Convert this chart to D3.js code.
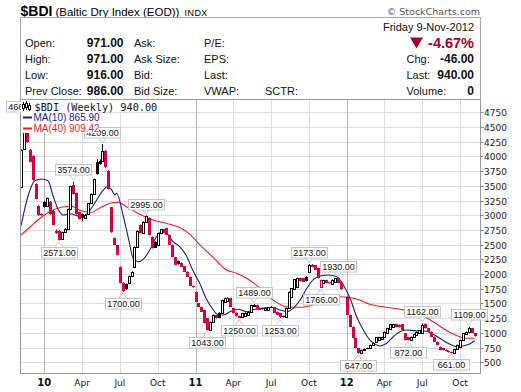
<!DOCTYPE html>
<html><head><meta charset="utf-8">
<script src="https://cdnjs.cloudflare.com/ajax/libs/d3/7.8.5/d3.min.js"></script>
<style>html,body{margin:0;padding:0;background:#fff;}svg{display:block;}</style>
</head><body>
<svg id="chart" width="521" height="392"></svg>
<script>
// ---------- DATA ----------
const weeks = ["2009-11-09","2009-11-16","2009-11-23","2009-11-30","2009-12-07","2009-12-14","2009-12-21","2009-12-28",
"2010-01-04","2010-01-11","2010-01-18","2010-01-25","2010-02-01","2010-02-08","2010-02-15","2010-02-22","2010-03-01","2010-03-08","2010-03-15","2010-03-22","2010-03-29",
"2010-04-05","2010-04-12","2010-04-19","2010-04-26","2010-05-03","2010-05-10","2010-05-17","2010-05-24","2010-05-31","2010-06-07","2010-06-14","2010-06-21","2010-06-28",
"2010-07-05","2010-07-12","2010-07-19","2010-07-26","2010-08-02","2010-08-09","2010-08-16","2010-08-23","2010-08-30","2010-09-06","2010-09-13","2010-09-20","2010-09-27",
"2010-10-04","2010-10-11","2010-10-18","2010-10-25","2010-11-01","2010-11-08","2010-11-15","2010-11-22","2010-11-29","2010-12-06","2010-12-13","2010-12-20","2010-12-27",
"2011-01-03","2011-01-10","2011-01-17","2011-01-24","2011-01-31","2011-02-07","2011-02-14","2011-02-21","2011-02-28","2011-03-07","2011-03-14","2011-03-21","2011-03-28",
"2011-04-04","2011-04-11","2011-04-18","2011-04-25","2011-05-02","2011-05-09","2011-05-16","2011-05-23","2011-05-30","2011-06-06","2011-06-13","2011-06-20","2011-06-27",
"2011-07-04","2011-07-11","2011-07-18","2011-07-25","2011-08-01","2011-08-08","2011-08-15","2011-08-22","2011-08-29","2011-09-05","2011-09-12","2011-09-19","2011-09-26",
"2011-10-03","2011-10-10","2011-10-17","2011-10-24","2011-10-31","2011-11-07","2011-11-14","2011-11-21","2011-11-28","2011-12-05","2011-12-12","2011-12-19",
"2012-01-02","2012-01-09","2012-01-16","2012-01-23","2012-01-30","2012-02-06","2012-02-13","2012-02-20","2012-02-27","2012-03-05","2012-03-12","2012-03-19","2012-03-26",
"2012-04-02","2012-04-09","2012-04-16","2012-04-23","2012-04-30","2012-05-07","2012-05-14","2012-05-21","2012-05-28","2012-06-04","2012-06-11","2012-06-18","2012-06-25",
"2012-07-02","2012-07-09","2012-07-16","2012-07-23","2012-07-30","2012-08-06","2012-08-13","2012-08-20","2012-08-27","2012-09-03","2012-09-10","2012-09-17","2012-09-24",
"2012-10-01","2012-10-08","2012-10-15","2012-10-22","2012-10-29","2012-11-05"];

const openV = [3480,4130,4550,4110,4010,3530,3160,3020,
3225,3150,3225,3080,2740,2740,2600,2715,2770,3100,3510,3370,3050,
3020,2955,3020,3200,3360,3905,3930,3930,4100,3760,3135,2610,2495,
2125,1850,1830,1855,1970,2115,2465,2835,2705,2890,2960,2635,2550,
2495,2695,2765,2780,2665,2495,2285,2225,2195,2130,2040,1955,1800,
1700,1510,1440,1390,1250,1050,1190,1305,1345,1335,1530,1545,1590,
1420,1345,1290,1265,1290,1300,1360,1460,1475,1430,1420,1395,1395,
1445,1435,1360,1335,1290,1265,1420,1615,1740,1785,1930,1930,1955,
2040,2160,2150,2100,1785,1845,1900,1860,1830,1860,1930,1870,
1615,1305,1105,910,740,655,705,745,740,790,850,880,900,
925,995,1070,1100,1150,1140,1150,995,925,875,930,965,1000,
995,1150,1080,1020,935,850,765,740,715,695,675,665,720,
765,880,985,1020,1080,995];
const highV = [4120,4661,4560,4130,4020,3545,3175,3030,
3240,3300,3240,3090,2760,2750,2720,2780,3110,3500,3574,3380,3060,
3030,3020,3210,3370,3620,3950,3950,4209,4110,3770,3140,2620,2500,
2130,1860,1840,1975,2045,2470,2745,2840,2895,2995,2965,2640,2555,
2700,2765,2770,2785,2670,2500,2290,2230,2200,2135,2045,1960,1805,
1705,1515,1445,1395,1255,1195,1310,1310,1350,1565,1595,1600,1595,
1425,1350,1295,1340,1350,1365,1480,1489,1480,1435,1425,1425,1440,
1450,1440,1365,1340,1295,1425,1705,1765,1915,1935,1935,1935,1960,
2173,2170,2155,2105,1905,1905,1905,1865,1910,1930,1930,1875,
1624,1310,1110,915,745,715,735,750,800,835,930,935,935,
1025,1085,1150,1155,1155,1145,1155,1000,930,940,985,1025,1050,
1162,1160,1085,1025,940,855,770,745,720,700,680,725,800,
885,1000,1025,1109,1085,1000];
const lowV = [3460,4120,4230,3900,3590,3270,2990,2990,
3130,3140,3010,2830,2680,2571,2590,2705,2760,3090,3350,3010,2930,
2900,2945,3010,3190,3350,3690,3860,3920,3800,3440,2700,2490,2320,
1840,1700,1730,1850,1965,2110,2460,2690,2700,2885,2660,2435,2445,
2490,2690,2695,2660,2495,2290,2155,2160,2120,2035,1950,1795,1770,
1525,1440,1355,1160,1043,1045,1185,1245,1255,1330,1525,1540,1440,
1330,1275,1250,1260,1285,1295,1355,1455,1395,1390,1395,1390,1390,
1430,1340,1300,1253,1260,1260,1415,1610,1735,1780,1875,1865,1875,
2035,2115,2065,1925,1766,1840,1845,1835,1825,1855,1845,1735,
1300,1100,905,735,647,650,700,725,735,785,845,875,895,
920,990,1065,1095,1095,1090,1045,875,872,870,925,960,995,
990,1075,1015,930,845,790,705,700,685,665,661,660,715,
760,875,980,1015,995,935];
const closeV = [4110,4600,4245,3910,3600,3280,3005,3000,
3140,3290,3020,2840,2690,2580,2715,2770,3100,3490,3360,3020,2935,
2955,3010,3200,3360,3615,3700,3870,4100,3815,3445,2710,2495,2325,
1845,1720,1740,1970,2040,2465,2740,2695,2890,2985,2665,2440,2450,
2695,2760,2700,2665,2500,2295,2160,2165,2125,2040,1955,1800,1773,
1530,1445,1360,1165,1050,1190,1305,1250,1260,1560,1590,1590,1445,
1335,1280,1255,1335,1345,1360,1475,1480,1400,1395,1400,1420,1435,
1438,1345,1305,1265,1268,1420,1700,1760,1910,1930,1880,1870,1880,
2160,2120,2070,1930,1900,1900,1850,1840,1905,1925,1850,1738,
1305,1105,910,740,650,710,730,735,795,830,925,928,930,
1020,1080,1145,1148,1100,1095,1050,880,876,935,980,1020,1045,
1135,1080,1020,935,850,795,712,705,690,668,665,720,795,
880,995,1020,1080,1000,940];

const ma10Dates = ["2009-11-09","2009-11-26","2009-12-12","2009-12-28","2010-01-13","2010-01-25","2010-02-06","2010-02-18","2010-03-10","2010-03-30","2010-04-11","2010-04-23","2010-05-09","2010-05-25","2010-06-04","2010-06-14","2010-06-23","2010-06-27","2010-07-13","2010-07-27","2010-08-06","2010-08-18","2010-08-30","2010-09-15","2010-10-01","2010-10-13","2010-10-25","2010-11-10","2010-11-26","2010-12-12","2010-12-28",
"2011-01-14","2011-01-29","2011-02-15","2011-02-27","2011-03-11","2011-03-27","2011-04-16","2011-05-06","2011-05-26","2011-06-15","2011-07-05","2011-07-25","2011-08-11","2011-08-26","2011-09-12","2011-09-28","2011-10-14","2011-10-30","2011-11-19","2011-12-09","2011-12-25",
"2012-01-10","2012-01-26","2012-02-11","2012-02-27","2012-03-06","2012-03-22","2012-04-07","2012-04-23","2012-05-09","2012-05-25","2012-06-18","2012-07-04","2012-07-24","2012-08-13","2012-09-02","2012-09-22","2012-10-08","2012-10-24","2012-11-05"];
const ma10Values = [2822,3332,3587,3616,3587,3332,3106,3004,3021,2982,2992,3077,3247,3417,3485,3446,3344,3373,2990,2560,2268,2210,2251,2409,2635,2720,2693,2550,2466,2310,2055,
1830,1580,1389,1304,1304,1360,1401,1360,1401,1418,1435,1389,1360,1418,1559,1758,1911,1967,1984,1955,1814,
1588,1275,1049,879,830,777,823,935,1020,1049,1037,1037,993,908,823,765,777,811,866];
const ma40Dates = ["2009-11-09","2009-12-04","2009-12-28","2010-01-21","2010-02-14","2010-03-10","2010-04-03","2010-04-27","2010-05-21","2010-06-11","2010-07-01","2010-07-21","2010-08-22","2010-09-23","2010-10-25","2010-11-26","2010-12-20",
"2011-01-13","2011-02-15","2011-03-19","2011-04-12","2011-05-06","2011-06-08","2011-07-09","2011-08-10","2011-09-11","2011-10-13","2011-11-14","2011-12-16",
"2012-01-05","2012-02-03","2012-02-23","2012-04-07","2012-05-09","2012-06-10","2012-07-04","2012-07-28","2012-08-21","2012-09-14","2012-09-30","2012-10-16","2012-11-05"];
const ma40Values = [2663,2822,2965,3077,3135,3152,3077,3050,3135,3203,3220,3145,3016,2919,2863,2790,2680,
2500,2280,2069,2013,1928,1758,1559,1445,1435,1474,1559,1615,
1605,1559,1495,1435,1401,1360,1287,1190,1078,981,935,908,909];

const noteWeeks  = ["2009-11-16","2010-02-08","2010-03-15","2010-05-24","2010-07-12","2010-09-06","2011-01-31","2011-04-18","2011-05-23","2011-07-25","2011-10-03","2011-10-31","2011-12-12","2012-01-30","2012-05-28","2012-07-02","2012-09-10","2012-10-22"];
const noteValues = [4661,2571,3574,4209,1700,2995,1043,1250,1489,1253,2173,1766,1930,647,872,1162,661,1109];
const noteSide   = ["above","below","above","above","below","above","below","below","above","below","above","below","above","below","below","above","below","above"];

const yTicks = [500,750,1000,1250,1500,1750,2000,2250,2500,2750,3000,3250,3500,3750,4000,4250,4500,4750];
const xTickWeeks = ["2010-01-04","2010-04-05","2010-07-05","2010-10-04","2011-01-03","2011-04-04","2011-07-04","2011-10-03","2012-01-02","2012-04-02","2012-07-02","2012-10-01"];
const xTickLabels = ["10","Apr","Jul","Oct","11","Apr","Jul","Oct","12","Apr","Jul","Oct"];

const quoteLabels1 = ["Open:","High:","Low:","Prev Close:"];
const quoteValues1 = ["971.00","971.00","916.00","986.00"];
const quoteLabels2 = ["Ask:","Ask Size:","Bid:","Bid Size:"];
const quoteLabels3 = ["P/E:","EPS:","Last:","VWAP:"];
const quoteLabels4 = ["Chg:","Last:","Volume:"];
const quoteValues4 = ["-46.00","940.00","0"];

// ---------- DRAW ----------
const svg = d3.select("#chart");
const SANS = '"Liberation Sans", Arial, Helvetica, sans-serif';
const VER = '"DejaVu Sans", Verdana, sans-serif';
const MONO = '"DejaVu Sans Mono", monospace';
const RED = "#d8003c", DARKRED = "#a3002e", NAVY = "#1c1c8e", MARED = "#f01c1c";
const parse = d3.timeParse("%Y-%m-%d");
const dates = weeks.map(parse);
const x = d3.scaleTime().domain([parse("2010-01-04"), parse("2012-01-02")]).range([44.3, 346.7]);
const y = d3.scaleLinear().domain([500, 4750]).range([362.3, 112.3]);
const P = {l:20.5, t:99.5, r:480.5, b:373.5};

svg.append("rect").attr("width",521).attr("height",392).attr("fill","#fff");

// title
const title = svg.append("text").attr("x",20.5).attr("y",15.5).attr("font-family",SANS);
title.append("tspan").attr("font-weight","bold").attr("font-size",14).text("$BDI");
title.append("tspan").attr("font-size",11.5).attr("dx",3).text("(Baltic Dry Index (EOD))");
title.append("tspan").attr("font-size",9).attr("dx",5).attr("letter-spacing",0.5).text("INDX");
svg.append("text").attr("x",480).attr("y",15).attr("text-anchor","end").attr("font-family",VER)
  .attr("font-size",9.5).attr("fill","#555").text("\u00A9 StockCharts.com");

// header box
svg.append("rect").attr("x",20.5).attr("y",17.5).attr("width",460).attr("height",82)
  .attr("fill","none").attr("stroke","#a8a8a8");
const rowY = [46.5,62.5,78.5,94.5];
const hdr = svg.append("g").attr("font-family",SANS).attr("font-size",11).attr("fill","#111");
quoteLabels1.forEach((t,i)=>hdr.append("text").attr("x",25).attr("y",rowY[i]).text(t));
quoteValues1.forEach((t,i)=>hdr.append("text").attr("x",123.5).attr("y",rowY[i]).attr("text-anchor","end").attr("font-weight","bold").attr("font-size",12).text(t));
quoteLabels2.forEach((t,i)=>hdr.append("text").attr("x",134).attr("y",rowY[i]).text(t));
quoteLabels3.forEach((t,i)=>hdr.append("text").attr("x",204).attr("y",rowY[i]).text(t));
hdr.append("text").attr("x",265).attr("y",rowY[3]).text("SCTR:");
hdr.append("text").attr("x",474).attr("y",31).attr("text-anchor","end").text("Friday  9-Nov-2012");
hdr.append("text").attr("x",474).attr("y",47.5).attr("text-anchor","end").attr("font-weight","bold")
  .attr("font-size",14.5).attr("fill",DARKRED).text("-4.67%");
hdr.append("path").attr("d","M410,37.5 L423,37.5 L416.5,48.5 Z").attr("fill",DARKRED);
quoteLabels4.forEach((t,i)=>hdr.append("text").attr("x",406.5).attr("y",rowY[i+1]).text(t));
quoteValues4.forEach((t,i)=>hdr.append("text").attr("x",474).attr("y",rowY[i+1]).attr("text-anchor","end").attr("font-weight","bold").attr("font-size",12).text(t));

// grid
const grid = svg.append("g");
yTicks.forEach(v=>{
  const yy = Math.round(y(v))+0.5;
  grid.append("line").attr("x1",P.l).attr("x2",P.r).attr("y1",yy).attr("y2",yy).attr("stroke","#dcdcdc");
});
xTickWeeks.forEach((w,i)=>{
  const xx = Math.round(x(parse(w)))+0.5;
  const isYear = /^\d+$/.test(xTickLabels[i]);
  grid.append("line").attr("x1",xx).attr("x2",xx).attr("y1",P.t).attr("y2",P.b)
    .attr("stroke", isYear ? "#b8b8b8" : "#dcdcdc");
});

// clip
svg.append("defs").append("clipPath").attr("id","clip").append("rect")
  .attr("x",P.l+0.5).attr("y",P.t+0.5).attr("width",P.r-P.l-1).attr("height",P.b-P.t-1);
const plotG = svg.append("g").attr("clip-path","url(#clip)");

// moving averages
const lineGen = d3.line().x(d=>x(d[0])).y(d=>y(d[1])).curve(d3.curveMonotoneX);
plotG.append("path").datum(ma40Dates.map((d,i)=>[parse(d),ma40Values[i]]))
  .attr("d",lineGen).attr("fill","none").attr("stroke",MARED).attr("stroke-width",1.1);
plotG.append("path").datum(ma10Dates.map((d,i)=>[parse(d),ma10Values[i]]))
  .attr("d",lineGen).attr("fill","none").attr("stroke",NAVY).attr("stroke-width",1.1);

// candles
dates.forEach((d,i)=>{
  const cx = Math.round(x(d));
  const o=openV[i], c=closeV[i], h=highV[i], l=lowV[i];
  const prev = i>0 ? closeV[i-1] : o;
  const col = c >= prev ? "#000" : RED;
  const yTop = Math.round(y(Math.max(o,c))), yBot = Math.round(y(Math.min(o,c)));
  plotG.append("line").attr("x1",cx+0.5).attr("x2",cx+0.5).attr("y1",y(h)).attr("y2",y(l))
    .attr("stroke",col).attr("stroke-width",1);
  if (c >= o) {
    plotG.append("rect").attr("x",cx-0.5).attr("y",yTop+0.5).attr("width",2)
      .attr("height",Math.max(yBot-yTop,1)).attr("fill","#fff").attr("stroke",col);
  } else {
    plotG.append("rect").attr("x",cx-1).attr("y",yTop).attr("width",3)
      .attr("height",Math.max(yBot-yTop,1)).attr("fill",col);
  }
});

// plot border
svg.append("rect").attr("x",P.l).attr("y",P.t).attr("width",P.r-P.l).attr("height",P.b-P.t)
  .attr("fill","none").attr("stroke","#9a9a9a");

// y axis
const yAx = svg.append("g").attr("font-family",VER).attr("font-size",9).attr("fill","#222");
yTicks.forEach(v=>{
  const yy = Math.round(y(v))+0.5;
  yAx.append("line").attr("x1",P.r).attr("x2",P.r+3).attr("y1",yy).attr("y2",yy).attr("stroke","#888");
  yAx.append("text").attr("x",P.r+3.5).attr("y",yy+3.3).text(v);
});
// x axis
xTickWeeks.forEach((w,i)=>{
  const xx = x(parse(w));
  const isYear = /^\d+$/.test(xTickLabels[i]);
  svg.append("text").attr("x",xx).attr("y",386).attr("text-anchor","middle")
    .attr("font-family",VER).attr("font-size",isYear?10:9).attr("font-weight",isYear?"bold":"normal")
    .attr("fill","#111").text(xTickLabels[i]);
});

// annotations
noteWeeks.forEach((w,i)=>{
  const cx = x(parse(w));
  const yp = y(noteValues[i]);
  const above = noteSide[i]==="above";
  const bw = 36, bh = 10.5;
  const by = above ? yp - 6.5 - bh : yp + 6.5;
  const edge = above ? by + bh : by;
  const tip = above ? yp - 1.5 : yp + 1.5;
  const g = svg.append("g");
  g.append("path").attr("d",`M${cx-4},${edge} L${cx},${tip} L${cx+4},${edge}`)
    .attr("fill","#fff").attr("stroke","#c4c4c4");
  g.append("rect").attr("x",Math.round(cx-bw/2)+0.5).attr("y",Math.round(by)+0.5).attr("width",bw).attr("height",bh)
    .attr("fill","#fff").attr("stroke","#c4c4c4");
  g.append("text").attr("x",Math.round(cx)+0.5).attr("y",Math.round(by)+9.3).attr("text-anchor","middle")
    .attr("font-family",SANS).attr("font-size",9).attr("fill","#111").text(noteValues[i].toFixed(2));
});

// legend
const lg = svg.append("g");
lg.append("rect").attr("x",21).attr("y",100).attr("width",140).attr("height",12).attr("fill","#fff");
lg.append("rect").attr("x",21).attr("y",112).attr("width",78).attr("height",21).attr("fill","#fff");
// tiny candle icon
[[23,102,111,104,108],[26,101,110,103,107],[29,103,111,105,109]].forEach(a=>{
  lg.append("line").attr("x1",a[0]+0.5).attr("x2",a[0]+0.5).attr("y1",a[1]).attr("y2",a[2]).attr("stroke","#000");
  lg.append("rect").attr("x",a[0]-0.5).attr("y",a[3]+0.5).attr("width",2).attr("height",a[4]-a[3]).attr("fill","#fff").attr("stroke","#000");
});
lg.append("text").attr("x",34.5).attr("y",110.5).attr("font-family",MONO).attr("font-size",10.2)
  .attr("fill","#111").text("$BDI (Weekly) 940.00");
lg.append("line").attr("x1",23).attr("x2",32).attr("y1",117.5).attr("y2",117.5).attr("stroke",NAVY).attr("stroke-width",2);
lg.append("text").attr("x",33.5).attr("y",121).attr("font-family",SANS).attr("font-size",10)
  .attr("fill",NAVY).text("MA(10) 865.90");
lg.append("line").attr("x1",23).attr("x2",32).attr("y1",128.5).attr("y2",128.5).attr("stroke",MARED).attr("stroke-width",2);
lg.append("text").attr("x",33.5).attr("y",132).attr("font-family",SANS).attr("font-size",10)
  .attr("fill",MARED).text("MA(40) 909.42");
</script>
</body></html>
